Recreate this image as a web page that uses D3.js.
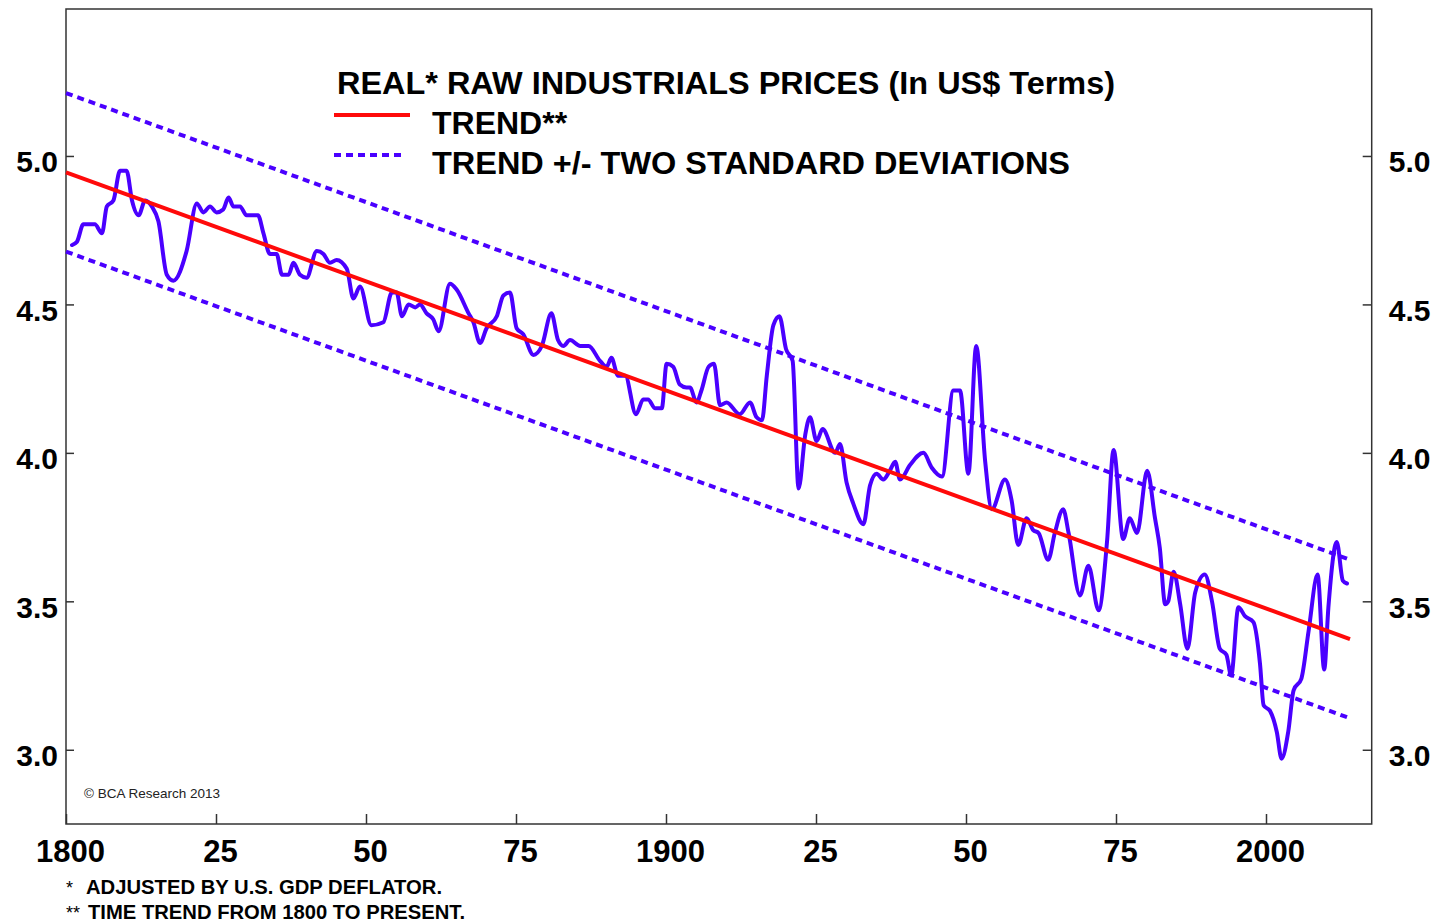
<!DOCTYPE html>
<html>
<head>
<meta charset="utf-8">
<script src="https://cdn.jsdelivr.net/npm/d3@7"></script>
<style>
  body { margin: 0; background: #fff; }
  text { font-family: "Liberation Sans", Arial, sans-serif; }
</style>
</head>
<body>
<div id="chart"></div>
<script>

// log of real raw industrials prices (decimal years)
var years = [
  1801.0, 1801.8, 1802.9, 1804.8, 1806.0, 1806.8, 1807.9, 1809.0, 1810.1, 1811.0,
  1812.1, 1813.2, 1814.3, 1815.4, 1816.8, 1817.9, 1820.1, 1821.8, 1822.9, 1824.0,
  1825.1, 1826.2, 1827.1, 1827.9, 1829.0, 1830.1, 1832.0, 1832.9, 1834.0, 1835.1,
  1836.0, 1837.1, 1837.9, 1839.0, 1840.1, 1841.8, 1842.9, 1844.0, 1845.1, 1846.8,
  1847.9, 1849.0, 1850.9, 1852.9, 1854.3, 1855.1, 1856.0, 1857.1, 1858.2, 1859.0,
  1860.1, 1861.2, 1862.1, 1864.0, 1865.1, 1867.1, 1867.9, 1869.0, 1870.1, 1871.8,
  1872.9, 1874.0, 1875.1, 1876.2, 1877.9, 1879.3, 1880.9, 1882.0, 1882.9, 1884.0,
  1885.7, 1887.1, 1889.0, 1890.1, 1890.9, 1892.0, 1893.2, 1895.0, 1896.2, 1897.0,
  1898.2, 1899.3, 1900.1, 1901.2, 1902.3, 1903.4, 1904.0, 1905.1, 1905.9, 1907.1,
  1908.0, 1909.0, 1910.1, 1912.3, 1914.0, 1915.1, 1916.0, 1916.8, 1917.9, 1918.9,
  1920.0, 1921.1, 1922.1, 1923.2, 1924.0, 1925.1, 1926.1, 1928.2, 1929.0, 1930.1,
  1931.2, 1932.9, 1934.0, 1935.1, 1936.2, 1937.3, 1938.2, 1939.0, 1940.7, 1942.9,
  1944.3, 1946.0, 1947.9, 1949.0, 1950.4, 1951.7, 1953.2, 1954.3, 1956.5, 1957.6,
  1958.7, 1960.1, 1961.2, 1962.1, 1963.7, 1964.8, 1966.2, 1967.1, 1969.0, 1970.4,
  1972.1, 1973.5, 1974.6, 1976.2, 1977.3, 1978.5, 1980.2, 1981.5, 1982.3, 1983.2,
  1983.7, 1984.6, 1985.7, 1986.9, 1988.2, 1989.8, 1991.0, 1992.3, 1993.4, 1994.2,
  1995.4, 1996.5, 1997.9, 1999.0, 1999.6, 2000.7, 2001.8, 2002.6, 2003.7, 2004.6,
  2005.9, 2007.1, 2008.6, 2009.7, 2010.4, 2011.8, 2012.8, 2013.5
];
var prices = [
  4.70, 4.71, 4.77, 4.77, 4.74, 4.83, 4.85, 4.95, 4.95, 4.85,
  4.80, 4.85, 4.83, 4.78, 4.60, 4.58, 4.68, 4.84, 4.81, 4.83,
  4.81, 4.82, 4.86, 4.83, 4.83, 4.80, 4.80, 4.74, 4.67, 4.67,
  4.60, 4.60, 4.64, 4.60, 4.59, 4.68, 4.67, 4.64, 4.65, 4.62,
  4.52, 4.56, 4.43, 4.44, 4.54, 4.54, 4.46, 4.50, 4.49, 4.50,
  4.47, 4.45, 4.41, 4.57, 4.55, 4.47, 4.44, 4.37, 4.42, 4.46,
  4.53, 4.54, 4.42, 4.40, 4.33, 4.36, 4.47, 4.38, 4.36, 4.38,
  4.36, 4.36, 4.31, 4.29, 4.32, 4.26, 4.26, 4.13, 4.18, 4.18,
  4.15, 4.15, 4.30, 4.29, 4.23, 4.22, 4.22, 4.17, 4.21, 4.29,
  4.30, 4.16, 4.17, 4.13, 4.17, 4.12, 4.11, 4.26, 4.43, 4.46,
  4.35, 4.31, 3.88, 4.06, 4.12, 4.04, 4.08, 4.00, 4.03, 3.90,
  3.83, 3.76, 3.89, 3.93, 3.91, 3.94, 3.97, 3.91, 3.96, 4.00,
  3.95, 3.92, 4.21, 4.21, 3.93, 4.36, 3.97, 3.81, 3.91, 3.84,
  3.69, 3.78, 3.74, 3.73, 3.64, 3.73, 3.81, 3.73, 3.52, 3.62,
  3.47, 3.70, 4.01, 3.71, 3.78, 3.73, 3.94, 3.78, 3.68, 3.49,
  3.50, 3.60, 3.49, 3.34, 3.53, 3.59, 3.50, 3.34, 3.32, 3.25,
  3.48, 3.45, 3.43, 3.29, 3.15, 3.13, 3.06, 2.97, 3.06, 3.20,
  3.24, 3.40, 3.59, 3.27, 3.48, 3.70, 3.57, 3.56
];

// time trend 1800 to present, and its two standard deviation band
var trendYears = [1800, 2014];
var trendValues = [4.945, 3.373];
var twoStdDev = 0.267;

var xTickYears = [1800, 1825, 1850, 1875, 1900, 1925, 1950, 1975, 2000];
var xTickLabels = ["1800", "25", "50", "75", "1900", "25", "50", "75", "2000"];
var yTickValues = [3.0, 3.5, 4.0, 4.5, 5.0];
var yTickLabels = ["3.0", "3.5", "4.0", "4.5", "5.0"];

var svgWidth = 1442;
var svgHeight = 923;

var margin = {
  top: 9,
  bottom: 99,
  right: 70.3,
  left: 66
};

var width = svgWidth - margin.left - margin.right;
var height = svgHeight - margin.top - margin.bottom;

var blue = "#4a00ff";
var red = "#ff0a0a";

var root = d3.select("#chart")
  .append("svg")
  .attr("width", svgWidth)
  .attr("height", svgHeight)
  .style("background", "#fff");

var svg = root.append("g")
  .attr("transform", "translate(" + margin.left + "," + margin.top + ")");

var x = d3.scaleLinear()
  .domain([1800, 1800 + width / 6])
  .range([0, width]);

var y = d3.scaleLinear()
  .domain([2.75, 5.495])
  .range([height, 0]);

// axes (ticks point inward)
var xAxis = d3.axisBottom(x)
  .tickValues(xTickYears)
  .tickSize(-10)
  .tickPadding(16)
  .tickFormat(function(d, i) { return xTickLabels[i]; });

var yLeft = d3.axisLeft(y)
  .tickValues(yTickValues)
  .tickSize(-8)
  .tickPadding(8)
  .tickFormat(function(d, i) { return yTickLabels[i]; });

var yRight = d3.axisRight(y)
  .tickValues(yTickValues)
  .tickSize(-9)
  .tickPadding(17)
  .tickFormat(function(d, i) { return yTickLabels[i]; });

function styleAxis(g, size) {
  g.select(".domain").remove();
  g.attr("font-family", null).attr("font-size", null);
  g.selectAll(".tick line").attr("stroke", "#333").attr("stroke-width", 1.5);
  g.selectAll("text")
    .attr("fill", "#000")
    .style("font-size", size + "px")
    .style("font-weight", "bold");
}

svg.append("g")
  .attr("transform", "translate(0," + height + ")")
  .call(xAxis)
  .call(styleAxis, 31)
  .selectAll("text").attr("dx", 4);

svg.append("g")
  .call(yLeft)
  .call(styleAxis, 30)
  .selectAll("text").attr("dy", "0.53em");

svg.append("g")
  .attr("transform", "translate(" + width + ",0)")
  .call(yRight)
  .call(styleAxis, 30)
  .selectAll("text").attr("dy", "0.53em");

// frame
svg.append("rect")
  .attr("x", 0)
  .attr("y", 0)
  .attr("width", width)
  .attr("height", height)
  .attr("fill", "none")
  .attr("stroke", "#333")
  .attr("stroke-width", 1.5);

// trend band
var bandLine = d3.line()
  .x(function(d, i) { return x(trendYears[i]); })
  .y(function(d) { return y(d); });

[twoStdDev, -twoStdDev].forEach(function(off) {
  svg.append("path")
    .datum(trendValues.map(function(v) { return v + off; }))
    .attr("d", bandLine)
    .attr("fill", "none")
    .attr("stroke", blue)
    .attr("stroke-width", 4)
    .attr("stroke-dasharray", "7,5");
});

// prices
var priceLine = d3.line()
  .x(function(d, i) { return x(years[i]); })
  .y(function(d) { return y(d); })
  .curve(d3.curveMonotoneX);

svg.append("path")
  .datum(prices)
  .attr("d", priceLine)
  .attr("fill", "none")
  .attr("stroke", blue)
  .attr("stroke-width", 4)
  .attr("stroke-linejoin", "round")
  .attr("stroke-linecap", "round");

// trend
svg.append("path")
  .datum(trendValues)
  .attr("d", bandLine)
  .attr("fill", "none")
  .attr("stroke", red)
  .attr("stroke-width", 4);

// legend
root.append("text")
  .attr("x", 337)
  .attr("y", 94)
  .attr("textLength", 778)
  .attr("lengthAdjust", "spacingAndGlyphs")
  .style("font-size", "32px")
  .style("font-weight", "bold")
  .text("REAL* RAW INDUSTRIALS PRICES (In US$ Terms)");

root.append("line")
  .attr("x1", 334).attr("x2", 410)
  .attr("y1", 115).attr("y2", 115)
  .attr("stroke", red)
  .attr("stroke-width", 4);

root.append("text")
  .attr("x", 432)
  .attr("y", 134)
  .style("font-size", "32px")
  .style("font-weight", "bold")
  .text("TREND**");

root.append("line")
  .attr("x1", 334).attr("x2", 404)
  .attr("y1", 155).attr("y2", 155)
  .attr("stroke", blue)
  .attr("stroke-width", 4)
  .attr("stroke-dasharray", "7,5");

root.append("text")
  .attr("x", 432)
  .attr("y", 174)
  .attr("textLength", 638)
  .attr("lengthAdjust", "spacingAndGlyphs")
  .style("font-size", "32px")
  .style("font-weight", "bold")
  .text("TREND +/- TWO STANDARD DEVIATIONS");

// source
root.append("text")
  .attr("x", 84)
  .attr("y", 798)
  .style("font-size", "13.5px")
  .attr("fill", "#222")
  .text("\u00A9 BCA Research 2013");

// footnotes
root.append("text")
  .attr("x", 66).attr("y", 894)
  .style("font-size", "18px")
  .text("*");
root.append("text")
  .attr("x", 86).attr("y", 894)
  .attr("textLength", 356)
  .attr("lengthAdjust", "spacingAndGlyphs")
  .style("font-size", "20px")
  .style("font-weight", "bold")
  .text("ADJUSTED BY U.S. GDP DEFLATOR.");

root.append("text")
  .attr("x", 66).attr("y", 919)
  .style("font-size", "18px")
  .text("**");
root.append("text")
  .attr("x", 88).attr("y", 919)
  .attr("textLength", 377)
  .attr("lengthAdjust", "spacingAndGlyphs")
  .style("font-size", "20px")
  .style("font-weight", "bold")
  .text("TIME TREND FROM 1800 TO PRESENT.");

</script>
</body>
</html>
